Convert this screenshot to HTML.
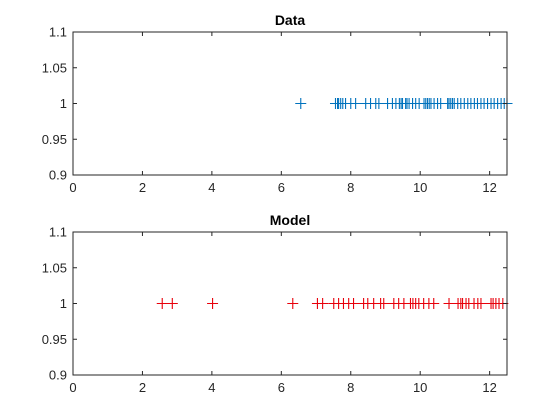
<!DOCTYPE html>
<html><head><meta charset="utf-8"><style>
body{margin:0;background:#fff;}
svg{display:block;font-family:"Liberation Sans",sans-serif;}
</style></head><body>
<svg id="fig" width="560" height="420"></svg>
<script>
const xTicks=[0,2,4,6,8,10,12];
const yTicks=[0.9,0.95,1,1.05,1.1];
const yTickLabels=["0.9","0.95","1","1.05","1.1"];
const dataX=[6.56,7.56,7.62,7.65,7.71,7.77,7.85,8.0,8.14,8.43,8.57,8.72,8.81,9.06,9.2,9.3,9.4,9.45,9.49,9.58,9.62,9.68,9.78,9.87,9.97,10.11,10.16,10.21,10.26,10.31,10.4,10.5,10.59,10.79,10.83,10.88,10.93,10.98,11.08,11.17,11.27,11.37,11.46,11.56,11.65,11.75,11.84,11.94,12.04,12.13,12.23,12.33,12.42,12.5];
const dataY=dataX.map(()=>1);
const modelX=[2.57,2.86,4.02,6.33,7.04,7.19,7.51,7.65,7.79,7.94,8.08,8.37,8.49,8.66,8.86,8.95,9.24,9.38,9.53,9.72,9.79,9.87,9.96,10.1,10.25,10.39,10.83,11.09,11.17,11.22,11.32,11.4,11.55,11.66,11.75,12.04,12.1,12.18,12.27,12.38];
const modelY=modelX.map(()=>1);
const NS="http://www.w3.org/2000/svg";
const svg=document.getElementById('fig');
function mk(t,a,p){const e=document.createElementNS(NS,t);for(const k in a)e.setAttribute(k,a[k]);(p||svg).appendChild(e);return e;}
function panel(top,title,xs,ys,color,name){
  const L=73,R=507,T=top,B=top+143;
  const sx=v=>L+(v-0)/12.5*(R-L);
  const sy=v=>B-(v-0.9)/0.2*(B-T);
  const g=mk('g',{});
  
  
  mk('rect',{x:L,y:T,width:R-L,height:B-T,fill:'#fff',stroke:'none'},g);
  const clip=mk('clipPath',{id:'c'+name},g);mk('rect',{x:L,y:T-6,width:R-L+6,height:B-T+12},clip);
  const m=mk('g',{'clip-path':'url(#c'+name+')'},g);
  xs.forEach((v,i)=>{const x=sx(v),y=sy(ys[i]);
    const p=mk('path',{d:`M${x-5.5},${y}H${x+5.5}M${x},${y-5.5}V${y+5.5}`,stroke:color,'stroke-width':1.1,fill:'none'},m);
    
    });
  mk('rect',{x:L,y:T,width:R-L,height:B-T,fill:'none',stroke:'#262626','stroke-width':1},g);
  xTicks.forEach(v=>{const x=sx(v);
    mk('path',{d:`M${x},${B}V${B-4}M${x},${T}V${T+4}`,stroke:'#262626'},g);
    const t=mk('text',{x:x,y:B+17,'text-anchor':'middle','font-size':13,fill:'#262626'},g);t.textContent=v;
    });
  yTicks.forEach((v,i)=>{const y=sy(v);
    mk('path',{d:`M${L},${y}H${L+4}M${R},${y}H${R-4}`,stroke:'#262626'},g);
    const t=mk('text',{x:L-6,y:y+4.5,'text-anchor':'end','font-size':13,fill:'#262626'},g);t.textContent=yTickLabels[i];
    });
  const tt=mk('text',{x:(L+R)/2,y:T-7,'text-anchor':'middle','font-size':14,'font-weight':'bold',fill:'#000'},g);tt.textContent=title;
  
}
panel(32,'Data',dataX,dataY,'#0072BD','data');
panel(232,'Model',modelX,modelY,'#E8000B','model');
</script>
</body></html>
